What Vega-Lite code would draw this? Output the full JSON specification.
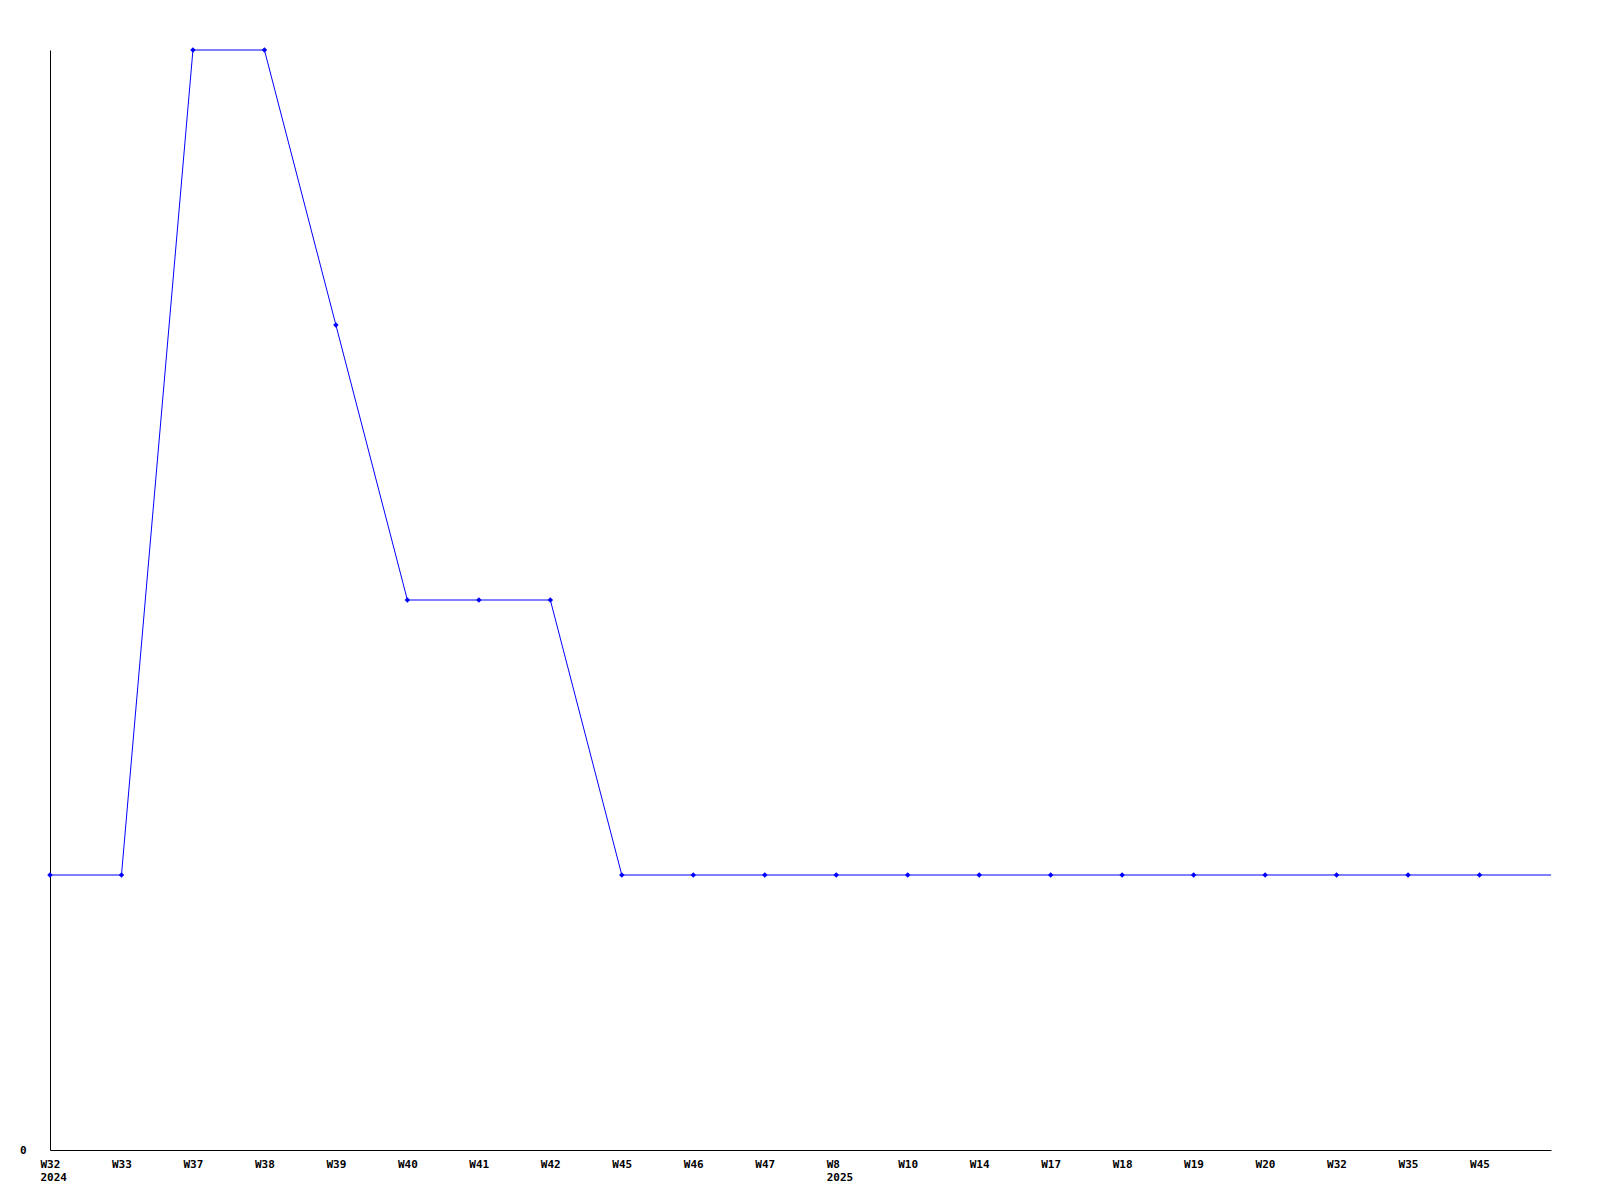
{
  "$schema": "https://vega.github.io/schema/vega-lite/v6.json",
  "autosize": "none",
  "padding": {"left": 50, "top": 50, "right": 49, "bottom": 50},
  "width": 1501,
  "height": 1100,
  "background": "white",
  "config": {
    "view": {"stroke": null},
    "axis": {
      "labelFont": "DejaVu Sans Mono",
      "labelFontWeight": "bold",
      "labelFontSize": 11,
      "labelColor": "black",
      "domainColor": "black",
      "domainWidth": 1,
      "grid": false,
      "ticks": false,
      "title": null
    }
  },
  "data": {
    "values": [
      {"key": "2024-W32", "value": 1},
      {"key": "2024-W33", "value": 1},
      {"key": "2024-W37", "value": 4},
      {"key": "2024-W38", "value": 4},
      {"key": "2024-W39", "value": 3},
      {"key": "2024-W40", "value": 2},
      {"key": "2024-W41", "value": 2},
      {"key": "2024-W42", "value": 2},
      {"key": "2024-W45", "value": 1},
      {"key": "2024-W46", "value": 1},
      {"key": "2024-W47", "value": 1},
      {"key": "2025-W8", "value": 1},
      {"key": "2025-W10", "value": 1},
      {"key": "2025-W14", "value": 1},
      {"key": "2025-W17", "value": 1},
      {"key": "2025-W18", "value": 1},
      {"key": "2025-W19", "value": 1},
      {"key": "2025-W20", "value": 1},
      {"key": "2025-W32", "value": 1},
      {"key": "2025-W35", "value": 1},
      {"key": "2025-W45", "value": 1}
    ]
  },
  "encoding": {
    "x": {
      "field": "key",
      "type": "ordinal",
      "sort": null,
      "scale": {"type": "point", "padding": 0.5, "align": 0},
      "axis": {
        "labelAngle": 0,
        "labelAlign": "left",
        "labelBaseline": "top",
        "labelOffset": -10,
        "labelPadding": 8,
        "labelLineHeight": 13,
        "labelOverlap": false,
        "labelExpr": "datum.value == '2024-W32' ? ['W32','2024'] : datum.value == '2025-W8' ? ['W8','2025'] : split(datum.value,'-')[1]"
      }
    },
    "y": {
      "field": "value",
      "type": "quantitative",
      "scale": {"domain": [0, 4], "nice": false, "zero": true},
      "axis": {"values": [0], "labelPadding": 24, "labelBaseline": "middle"}
    }
  },
  "layer": [
    {"mark": {"type": "line", "color": "#0000ff", "strokeWidth": 1}},
    {
      "transform": [{"filter": "datum.key == '2025-W45'"}],
      "mark": {"type": "rule", "color": "#0000ff", "strokeWidth": 1},
      "encoding": {
        "x2": {"value": "width"}
      }
    },
    {"mark": {"type": "point", "shape": "diamond", "filled": true, "color": "#0000ff", "size": 30, "opacity": 1}}
  ]
}
